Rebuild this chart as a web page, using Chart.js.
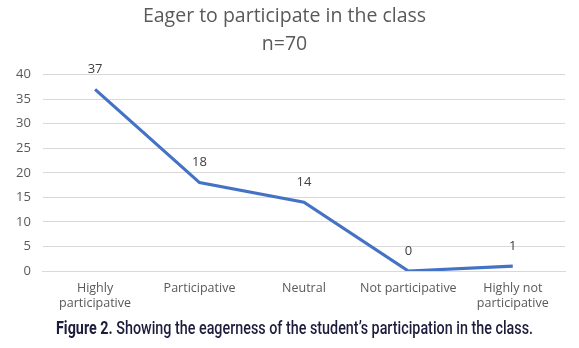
<!DOCTYPE html>
<html><head><meta charset="utf-8">
<script src="https://cdn.jsdelivr.net/npm/chart.js@4"></script>
<style>
html,body{margin:0;padding:0;background:#fff;}
#wrap{position:relative;width:579px;height:321px;}
#cap{position:absolute;left:0;top:317px;width:579px;height:24px;}
#capin{position:absolute;left:56px;top:0;white-space:nowrap;transform-origin:0 0;font-family:Roboto,sans-serif;font-size:18px;line-height:22px;color:#1c1c3c;font-weight:500;}
#capin b{font-weight:bold;}
</style></head>
<body>
<div id="wrap"><canvas id="c" width="579" height="321"></canvas></div>
<div id="cap"><span id="capin"><b>Figure 2.</b> Showing the eagerness of the student’s participation in the class.</span></div>
<script>
const categories = [["Highly","participative"],"Participative","Neutral","Not participative",["Highly not","participative"]];
const values = [37,18,14,0,1];
const yTicks = [0,5,10,15,20,25,30,35,40];
const titleLines = ["Eager to participate in the class","n=70"];

const capEl = document.getElementById('capin');
const capW = capEl.getBoundingClientRect().width;
capEl.style.transform = 'scaleX(' + (477 / capW) + ')';

const labelPlugin = {
  id:'pointLabels',
  afterDatasetsDraw(chart){
    const ctx = chart.ctx;
    const meta = chart.getDatasetMeta(0);
    ctx.save();
    ctx.font = '13px "Open Sans", sans-serif';
    ctx.fillStyle = '#404040';
    ctx.textAlign = 'center';
    ctx.textBaseline = 'middle';
    meta.data.forEach((p,i)=>{
      ctx.fillText(String(values[i]), p.x, p.y - 20);
    });
    ctx.restore();
  }
};

new Chart(document.getElementById('c'),{
  type:'line',
  data:{labels:categories,datasets:[{data:values,borderColor:'#4472C4',borderWidth:3.2,pointRadius:0,fill:false,tension:0}]},
  options:{
    responsive:false,animation:false,
    layout:{padding:{left:4,right:14,top:0,bottom:0}},
    plugins:{
      legend:{display:false},tooltip:{enabled:false},
      title:{display:true,text:titleLines,color:'#595959',font:{family:'"Open Sans", sans-serif',size:19.5,weight:'normal',lineHeight:1.4},padding:{top:3,bottom:17}}
    },
    scales:{
      x:{offset:true,grid:{display:false,drawTicks:false},border:{display:true,color:'#d9d9d9',width:1},
         ticks:{color:'#595959',font:{family:'"Open Sans", sans-serif',size:12.5},padding:10,maxRotation:0,autoSkip:false}},
      y:{min:0,max:40,afterBuildTicks(a){a.ticks=yTicks.map(v=>({value:v}));},
         grid:{color:'#d9d9d9',drawTicks:false},border:{display:false},
         ticks:{color:'#595959',font:{family:'"Open Sans", sans-serif',size:13},padding:12}}
    }
  },
  plugins:[labelPlugin]
});
</script>
</body></html>
